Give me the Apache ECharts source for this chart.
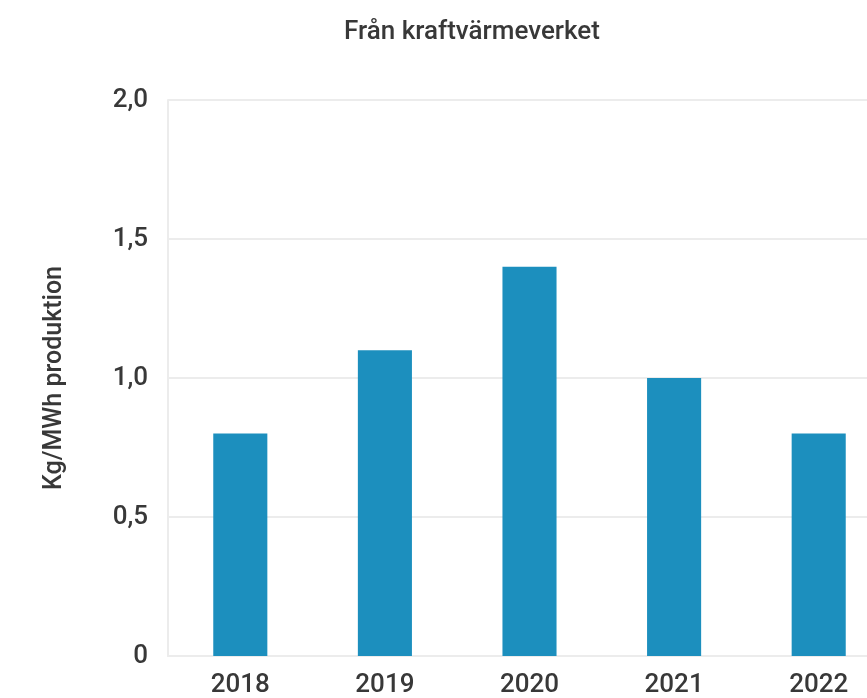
<!DOCTYPE html>
<html><head><meta charset="utf-8">
<script src="https://cdn.jsdelivr.net/npm/echarts@6/dist/echarts.min.js"></script>
<style>html,body{margin:0;padding:0;background:#fff;overflow:hidden;width:867px;height:698px}#c{width:892px;height:698px}</style>
</head><body><div id="c"></div>
<script>
const categories = ['2018', '2019', '2020', '2021', '2022'];
const values = [0.80, 1.10, 1.40, 1.00, 0.80];
const subtitle = 'Från kraftvärmeverket';
const yAxisName = 'Kg/MWh produktion';
const font = 'Roboto';
const chart = echarts.init(document.getElementById('c'), null, {renderer: 'canvas'});
chart.setOption({
  animation: false,
  title: {
    text: subtitle, left: 467, top: 14, textAlign: 'center',
    textStyle: {fontFamily: font, fontSize: 26, fontWeight: 500, color: '#383838'}
  },
  grid: {left: 168, right: 1, top: 100, height: 556, containLabel: false},
  xAxis: {
    type: 'category', data: categories,
    axisLine: {lineStyle: {color: '#ececec', width: 2}},
    axisTick: {show: false},
    axisLabel: {fontFamily: font, fontSize: 26, fontWeight: 500, color: '#383838', margin: 16}
  },
  yAxis: {
    type: 'value', min: 0, max: 2, interval: 0.5,
    name: yAxisName, nameLocation: 'middle', nameGap: 101, nameRotate: 90,
    nameTextStyle: {fontFamily: font, fontSize: 25, fontWeight: 500, color: '#383838'},
    axisLine: {show: true, lineStyle: {color: '#ececec', width: 2}},
    axisTick: {show: false},
    splitLine: {lineStyle: {color: '#ececec', width: 2}},
    axisLabel: {
      fontFamily: font, fontSize: 26, fontWeight: 500, color: '#383838', margin: 20,
      formatter: v => v === 0 ? '0' : v.toFixed(1).replace('.', ',')
    }
  },
  series: [{
    type: 'bar', data: values, barWidth: '37.4%',
    itemStyle: {color: '#1c8fbe'}
  }]
});
</script></body></html>
